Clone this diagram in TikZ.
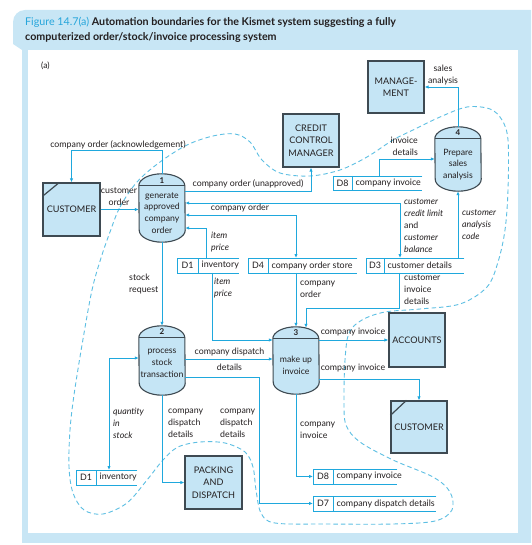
\documentclass[tikz,border=0pt]{standalone}
\usepackage{fontspec}
\setmainfont{Lato}
\usetikzlibrary{arrows.meta,calc}
\definecolor{band}{HTML}{C8E6F5}
\definecolor{fillb}{HTML}{C5E5F5}
\definecolor{edge}{HTML}{3E4A52}
\definecolor{flowc}{HTML}{1FA8DD}
\definecolor{dashc}{HTML}{5DBFE3}
\definecolor{txt}{HTML}{231F20}
\definecolor{figc}{HTML}{27A6DB}
\newcommand\procshape[1]{%
  \path[procline] ([yshift=-12pt]#1.north west) arc[start angle=180,end angle=0,x radius=23pt,y radius=12pt]
    -- ([yshift=12pt]#1.south east) arc[start angle=0,end angle=-180,x radius=23pt,y radius=12pt] -- cycle;
  \draw[draw=edge,line width=1pt] ([yshift=-12pt]#1.north west) -- ([yshift=-12pt]#1.north east);}
\newcommand\dstore[7]{%
  \node[dsnode,minimum width=#4pt-#2pt,anchor=north west] (#1) at (#2,#3) {};
  \draw[dsline] (#1.north east) -- (#1.north west) -- (#1.south west) -- (#1.south east);
  \draw[dsline] (#5,#3) -- (#5,#3+14.5);
  \node[dslab] (#1-id) at ({(#2+#5)/2},#3+7.5) {#6};
  \node[dslab,anchor=west] (#1-lab) at (#5+3.5,#3+7.5) {#7};}
\begin{document}
\begin{tikzpicture}[x=1pt,y=-1pt,
  lab/.style={font=\fontsize{8.8}{12}\selectfont,text=txt,inner sep=0pt,align=left},
  labc/.style={lab,align=center},
  itl/.style={lab,font=\fontsize{8.8}{12}\selectfont\itshape},
  ent/.style={draw=edge,line width=1.2pt,fill=fillb,font=\fontsize{9.1}{12.4}\selectfont,text=txt,align=center,inner sep=0pt},
  procnode/.style={minimum width=46pt,inner sep=0pt},
  procline/.style={draw=edge,line width=1.1pt,fill=fillb},
  ptext/.style={font=\fontsize{8.7}{11.8}\selectfont,text=txt,align=center,inner sep=0pt},
  pnum/.style={font=\fontsize{8}{9}\selectfont\bfseries,text=txt,inner sep=0pt},
  dsnode/.style={minimum height=14.5pt,inner sep=0pt},
  dsline/.style={draw=flowc,line width=0.8pt},
  dslab/.style={font=\fontsize{8.9}{10}\selectfont,text=txt,inner sep=0pt},
  flow/.style={draw=flowc,line width=0.8pt,-{Latex[length=4pt,width=3.4pt]}},
  flow2/.style={draw=flowc,line width=0.8pt,{Latex[length=4pt,width=3.4pt]}-{Latex[length=4pt,width=3.4pt]}},
  bnd/.style={draw=dashc,line width=0.9pt,dash pattern=on 4.5pt off 3pt}
]
\useasboundingbox (0,0) rectangle (531,545);
% frame
\fill[band] (22,40) rectangle (531,543);
\fill[band] (13,22) arc[start angle=180,end angle=90,radius=12pt] -- (531,10) -- (531,50) -- (22,50) -- (13,44) -- cycle;
\fill[white] (28,50) rectangle (518,533);
\node[anchor=base west,inner sep=0pt,font=\fontsize{10.7}{13}\selectfont,text=txt] (title1) at (25,25.5) {\textcolor{figc}{Figure 14.7(a)} \textbf{Automation boundaries for the Kismet system suggesting a fully}};
\node[anchor=base west,inner sep=0pt,font=\fontsize{10.7}{13}\selectfont\bfseries,text=txt] (title2) at (25,41) {computerized order/stock/invoice processing system};
\node[anchor=base west,inner sep=0pt,font=\fontsize{8.5}{10}\selectfont,text=txt] (sub) at (41,69) {(a)};

% boundary
\draw[bnd] plot[smooth cycle,tension=0.55] coordinates {
(110,232) (120,207) (137,182) (160,162) (187,145) (213,136) (235,134) (250,142) (262,160) (280,173) (310,176) (340,170) (367,157) (393,140) (413,130) (440,117) (467,107) (490,109) (502,120) (508,140) (508,190) (505,230) (498,262) (487,287) (460,304) (420,309) (385,312) (362,320) (349,333) (345,360) (344,400) (346,425) (360,442) (393,460) (433,477) (450,492) (452,510) (435,521) (393,524) (327,524) (275,523) (261,513) (256,490) (253,467) (245,452) (225,443) (200,442) (178,447) (163,460) (147,480) (127,503) (103,514) (84,510) (73,493) (69,467) (70,430) (74,395) (82,345) (92,290) (101,258)};

% external entities
\node[ent,minimum width=57pt,minimum height=53pt] (custL) at (71.5,209.5) {CUSTOMER};
\draw[draw=edge,line width=1.2pt] ([yshift=-14pt]custL.north west) -- ([xshift=17pt]custL.north west);
\node[ent,minimum width=56pt,minimum height=52pt] (mgmt) at (396,87) {MANAGE-\\MENT};
\node[ent,minimum width=56pt,minimum height=53pt] (ccm) at (311,140.5) {CREDIT\\CONTROL\\MANAGER};
\node[ent,minimum width=56pt,minimum height=54pt] (acc) at (417,340) {ACCOUNTS};
\node[ent,minimum width=56pt,minimum height=52pt] (custR) at (419,427) {CUSTOMER};
\draw[draw=edge,line width=1.2pt] ([yshift=-15pt]custR.north west) -- ([xshift=16pt]custR.north west);
\node[ent,minimum width=57pt,minimum height=53pt] (pack) at (213.5,482.5) {PACKING\\AND\\DISPATCH};

% processes
\node[procnode,minimum height=68pt] (p1) at (162,208) {};
\node[procnode,minimum height=69pt] (p2) at (162,360.5) {};
\node[procnode,minimum height=67pt] (p3) at (296,360.5) {};
\node[procnode,minimum height=64pt] (p4) at (458,159) {};
\procshape{p1}\procshape{p2}\procshape{p3}\procshape{p4}
\node[pnum] (p1n) at (162,180.5) {1};
\node[pnum] (p2n) at (162,332) {2};
\node[pnum] (p3n) at (296,333) {3};
\node[pnum] (p4n) at (458,133) {4};
\node[ptext] (p1t) at (162,213) {generate\\approved\\company\\order};
\node[ptext] (p2t) at (162,363.5) {process\\stock\\transaction};
\node[ptext] (p3t) at (296,365) {make up\\invoice};
\node[ptext] (p4t) at (458,164.5) {Prepare\\sales\\analysis};

% data stores
\dstore{d1a}{177}{258}{239}{198}{D1}{inventory}
\dstore{d4}{248}{258}{357}{268}{D4}{company order store}
\dstore{d3}{366}{258}{464}{384}{D3}{customer details}
\dstore{d8a}{333}{176}{422}{352}{D8}{company invoice}
\dstore{d1b}{76}{470}{137}{96}{D1}{inventory}
\dstore{d8b}{313}{469}{397}{333}{D8}{company invoice}
\dstore{d7}{313}{496}{436}{333}{D7}{company dispatch details}

% connectors
\draw[flow] (p1.north) -- ++(0,-23) -| (custL.north);
\draw[flow] (custL.east) -- (custL.east -| p1.west);
\draw[flow] ([yshift=17pt]p1.east) -| (ccm.south);
\draw[flow2] ([xshift=34pt]d3.north west) |- ([yshift=5pt]p1.east);
\draw[flow2] ([xshift=48pt]d4.north west) |- ([yshift=-7pt]p1.east);
\draw[flow] ([xshift=29pt]d1a.north west) |- ([yshift=-20pt]p1.east);
\draw[flow] ([xshift=35pt]d1a.south west) |- ([yshift=20.5pt]p3.west);
\draw[flow] (p1.south) -- (p2.north);
\draw[flow] ([xshift=48pt]d4.south west) -- (p3.north);
\draw[flow] ([xshift=33pt]d3.south west) -- ++(0,35) -| ([xshift=10pt,yshift=-1pt]p3.north);
\draw[flow] ([xshift=92pt]d3.north west) -- (p4.south);
\draw[flow] ([xshift=46pt]d8a.north west) |- (p4.west);
\draw[flow] (p4.north) |- (mgmt.east);
\draw[flow] ([yshift=1.5pt]p2.east) -- ([yshift=1.5pt]p2.east -| p3.west);
\draw[flow] ([yshift=-16.5pt]p2.east) -- ++(74,0) |- (d7.west);
\draw[flow] (p2.south) |- (pack.west);
\draw[flow2] ([xshift=33pt]d1b.north west) |- ([yshift=2.5pt]p2.west);
\draw[flow] (p3.east |- acc.west) -- (acc.west);
\draw[flow] ([yshift=-18.5pt]p3.east) -| (custR.north);
\draw[flow] (p3.south) |- (d8b.west);

% labels
\node[labc] (l1) at (118,144.5) {company order (acknowledgement)};
\node[labc] (l2) at (119,197) {customer\\order};
\node[labc] (l3) at (248,183.5) {company order (unapproved)};
\node[labc] (l4) at (240,208) {company order};
\node[lab,anchor=west] (l5) at (404,226) {\itshape customer\\\itshape credit limit\\and\\\itshape customer\\\itshape balance};
\node[itl,anchor=west] (l6) at (211,242) {item\\price};
\node[itl,anchor=west] (l7) at (214,288) {item\\price};
\node[lab,anchor=west] (l8) at (129,284) {stock\\request};
\node[lab,anchor=west] (l9) at (300,289) {company\\order};
\node[lab,anchor=west] (l10) at (404,290) {customer\\invoice\\details};
\node[itl,anchor=west] (l11) at (462,225) {customer\\analysis\\code};
\node[lab,anchor=east,align=right] (l12) at (418,146) {invoice\\details};
\node[labc] (l13) at (443,75) {sales\\analysis};
\node[labc] (l14) at (229.5,352) {company dispatch};
\node[labc] (l15) at (229.5,367) {details};
\node[labc] (l16) at (353,332) {company invoice};
\node[labc] (l17) at (353,368) {company invoice};
\node[lab,anchor=west] (l18) at (300,430) {company\\invoice};
\node[lab,anchor=west] (l19) at (168,423.5) {company\\dispatch\\details};
\node[lab,anchor=west] (l20) at (220,423.5) {company\\dispatch\\details};
\node[itl,anchor=west] (l21) at (113,423.5) {quantity\\in\\stock};
\end{tikzpicture}
\end{document}
